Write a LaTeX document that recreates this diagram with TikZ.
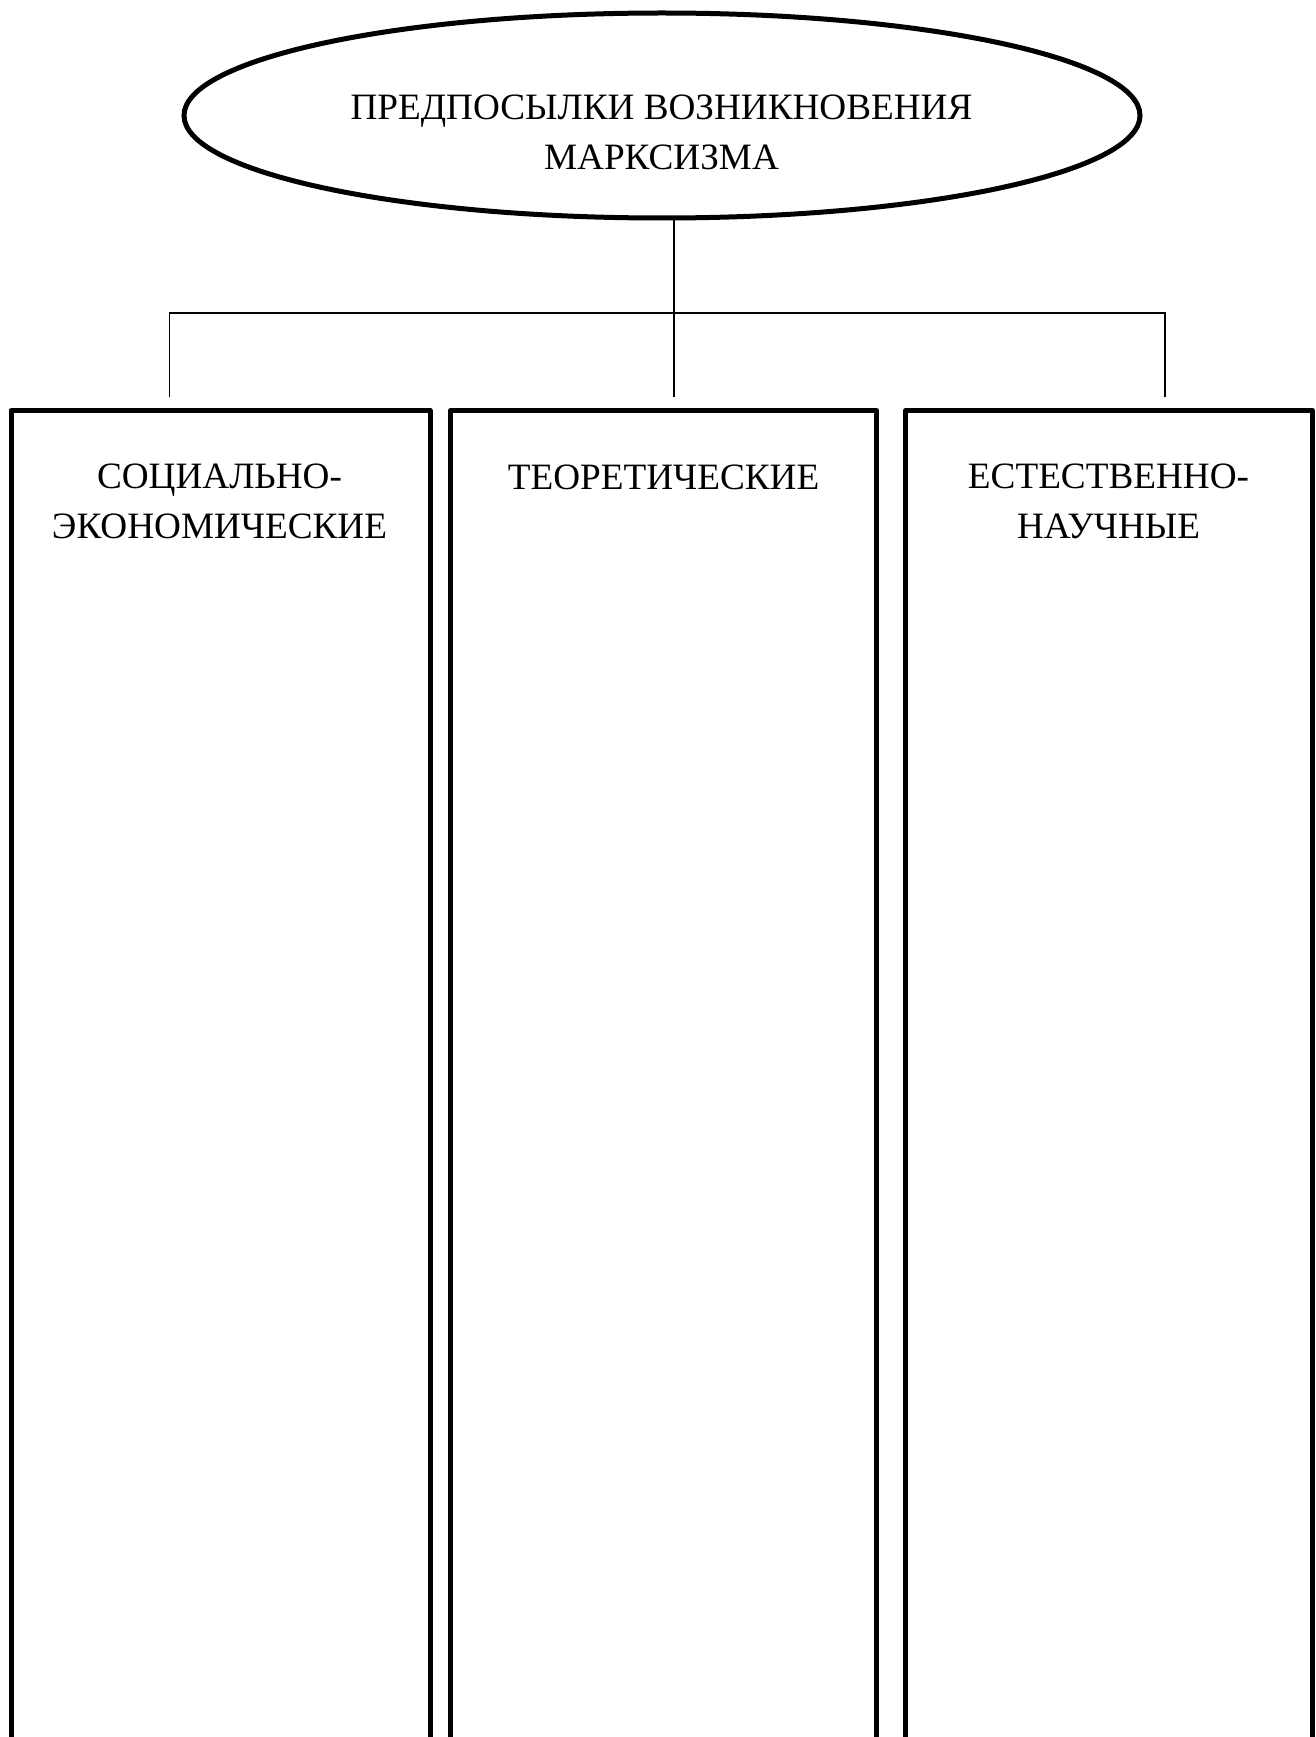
\documentclass[tikz,border=0pt]{standalone}
\usepackage{fontspec}
\setmainfont{Liberation Serif}
\usetikzlibrary{shapes.geometric}
\newcommand{\twolines}[2]{\vtop{\halign{\hfil##\hfil\cr #1\cr #2\cr}}}
\tikzset{
  thick line/.style={draw=black, line width=3.75pt, outer sep=0pt},
  topshape/.style={thick line, ellipse, inner sep=0pt, minimum width=717pt, minimum height=153.75pt},
  colbox/.style={thick line, rectangle, line join=round, inner sep=0pt, anchor=north west, minimum height=1030pt},
  conn/.style={draw=black, line width=1.35pt},
  lbl/.style={anchor=base, inner sep=0pt, font=\fontsize{27.9}{37.5}\selectfont}
}
\begin{document}
\begin{tikzpicture}[x=0.75pt,y=-0.75pt]
\useasboundingbox (0,0) rectangle (1316,1737);
% top ellipse
\node[topshape] (top) at (662,115.5) {};
\node[lbl] (toptext) at (661.5,120) {\twolines{ПРЕДПОСЫЛКИ ВОЗНИКНОВЕНИЯ}{МАРКСИЗМА}};
% boxes
\node[colbox, minimum width=314.25pt] (b1) at (11,410.5) {};
\node[colbox, minimum width=319.5pt] (b2) at (450.5,410.5) {};
\node[colbox, minimum width=305.25pt] (b3) at (905.5,410.5) {};
\node[lbl] (t1) at (219.5,488.5) {\twolines{СОЦИАЛЬНО-}{ЭКОНОМИЧЕСКИЕ}};
\node[lbl] (t2) at (663.5,489) {ТЕОРЕТИЧЕСКИЕ};
\node[lbl] (t3) at (1108.5,488.5) {\twolines{ЕСТЕСТВЕННО-}{НАУЧНЫЕ}};
% connectors
\coordinate (j) at (674.3,313.3);
\coordinate (dl) at (169.5,397.3);
\coordinate (dc) at (674.3,397.3);
\coordinate (dr) at (1165,397.3);
\draw[conn] (j |- top.south) -- (dc);
\draw[conn] (dl) -- (dl |- j) -- (dr |- j) -- (dr);
\end{tikzpicture}
\end{document}
